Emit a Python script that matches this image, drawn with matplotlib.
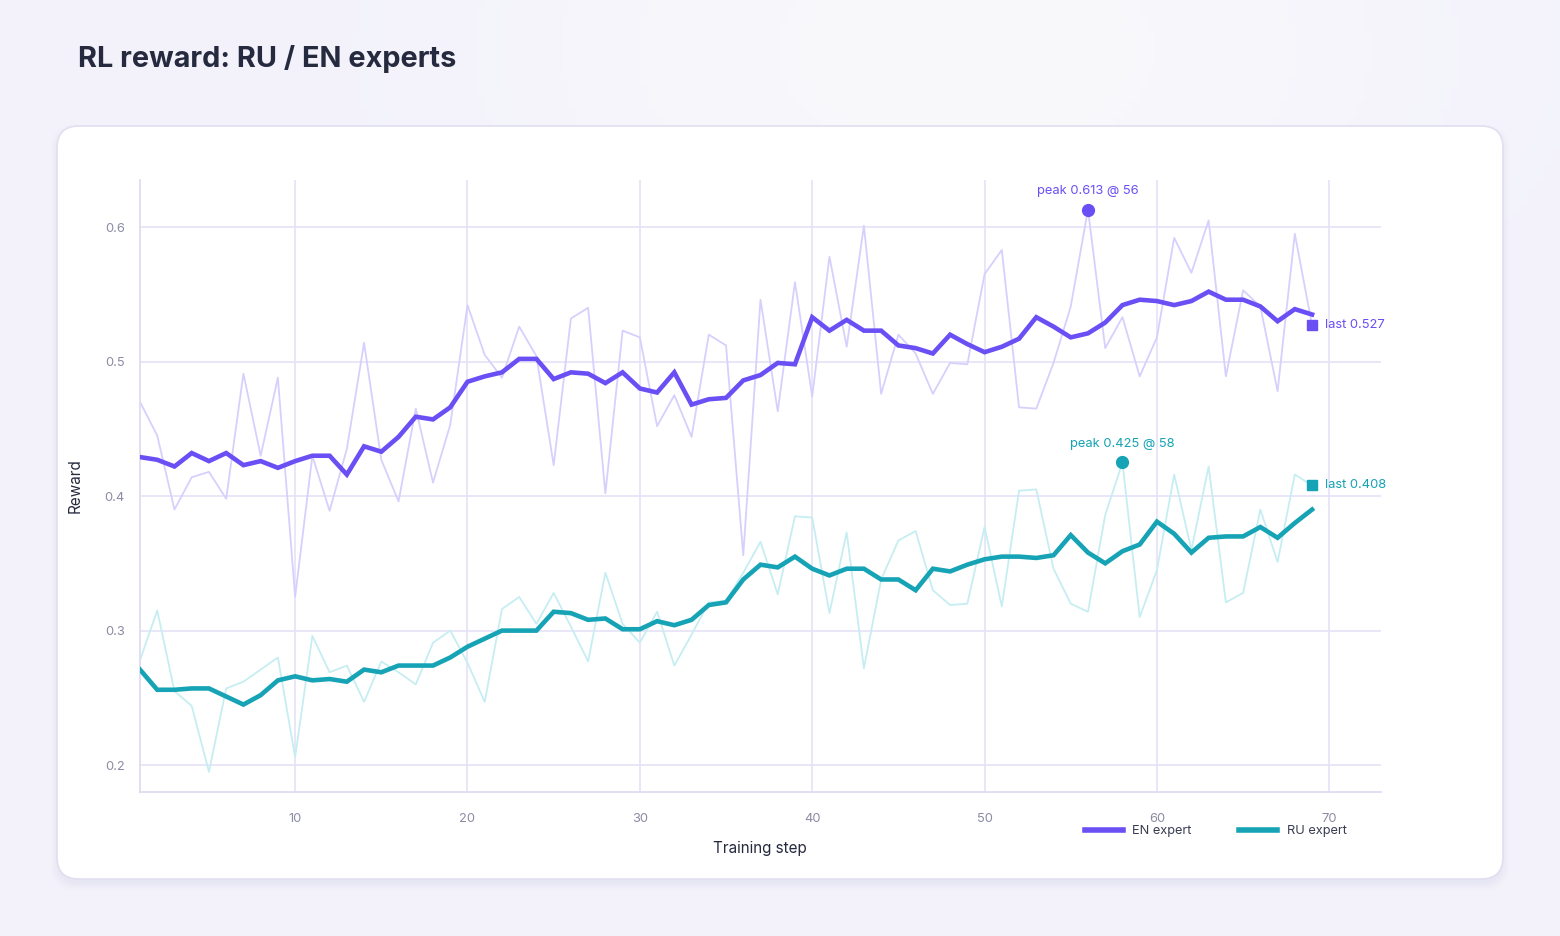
import numpy as np
import matplotlib
matplotlib.use("Agg")
import matplotlib.pyplot as plt
from matplotlib.patches import FancyBboxPatch
from matplotlib.lines import Line2D

plt.rcParams["font.family"] = ["Inter", "DejaVu Sans"]

# ---- data ----
steps = list(range(1, 70))

en_raw = [0.470, 0.445, 0.390, 0.414, 0.418, 0.398, 0.491, 0.430, 0.488, 0.325,
          0.430, 0.389, 0.435, 0.514, 0.427, 0.396, 0.465, 0.410, 0.453, 0.542,
          0.505, 0.488, 0.526, 0.504, 0.423, 0.532, 0.540, 0.402, 0.523, 0.518,
          0.452, 0.475, 0.444, 0.520, 0.512, 0.356, 0.546, 0.463, 0.559, 0.474,
          0.578, 0.511, 0.601, 0.476, 0.520, 0.506, 0.476, 0.499, 0.498, 0.565,
          0.583, 0.466, 0.465, 0.499, 0.541, 0.613, 0.510, 0.533, 0.489, 0.518,
          0.592, 0.566, 0.605, 0.489, 0.553, 0.541, 0.478, 0.595, 0.527]
en_smooth = [0.429, 0.427, 0.422, 0.432, 0.426, 0.432, 0.423, 0.426, 0.421, 0.426,
             0.430, 0.430, 0.416, 0.437, 0.433, 0.444, 0.459, 0.457, 0.466, 0.485,
             0.489, 0.492, 0.502, 0.502, 0.487, 0.492, 0.491, 0.484, 0.492, 0.480,
             0.477, 0.492, 0.468, 0.472, 0.473, 0.486, 0.490, 0.499, 0.498, 0.533,
             0.523, 0.531, 0.523, 0.523, 0.512, 0.510, 0.506, 0.520, 0.513, 0.507,
             0.511, 0.517, 0.533, 0.526, 0.518, 0.521, 0.529, 0.542, 0.546, 0.545,
             0.542, 0.545, 0.552, 0.546, 0.546, 0.541, 0.530, 0.539, 0.535]

ru_raw = [0.278, 0.315, 0.255, 0.244, 0.195, 0.257, 0.262, 0.271, 0.280, 0.206,
          0.296, 0.269, 0.274, 0.247, 0.277, 0.269, 0.260, 0.291, 0.300, 0.276,
          0.247, 0.316, 0.325, 0.305, 0.328, 0.303, 0.277, 0.343, 0.305, 0.291,
          0.314, 0.274, 0.297, 0.321, 0.322, 0.343, 0.366, 0.327, 0.385, 0.384,
          0.313, 0.373, 0.272, 0.338, 0.367, 0.374, 0.330, 0.319, 0.320, 0.377,
          0.318, 0.404, 0.405, 0.346, 0.320, 0.314, 0.386, 0.425, 0.310, 0.345,
          0.416, 0.360, 0.422, 0.321, 0.328, 0.390, 0.351, 0.416, 0.408]
ru_smooth = [0.271, 0.256, 0.256, 0.257, 0.257, 0.251, 0.245, 0.252, 0.263, 0.266,
             0.263, 0.264, 0.262, 0.271, 0.269, 0.274, 0.274, 0.274, 0.280, 0.288,
             0.294, 0.300, 0.300, 0.300, 0.314, 0.313, 0.308, 0.309, 0.301, 0.301,
             0.307, 0.304, 0.308, 0.319, 0.321, 0.338, 0.349, 0.347, 0.355, 0.346,
             0.341, 0.346, 0.346, 0.338, 0.338, 0.330, 0.346, 0.344, 0.349, 0.353,
             0.355, 0.355, 0.354, 0.356, 0.371, 0.358, 0.350, 0.359, 0.364, 0.381,
             0.372, 0.358, 0.369, 0.370, 0.370, 0.377, 0.369, 0.380, 0.390]

x_ticks = [10, 20, 30, 40, 50, 60, 70]
y_ticks = [0.2, 0.3, 0.4, 0.5, 0.6]

EN = "#6a4ff5"
RU = "#16a3b5"
EN_LIGHT = "#d6d0fd"
RU_LIGHT = "#c6eef2"
GRID = "#e5e3f6"
INK = "#262a3f"
MUTED = "#8b8ca3"

W, H = 1560, 936
fig = plt.figure(figsize=(W / 100, H / 100), dpi=100)

# background + card, drawn in pixel units
bg = fig.add_axes([0, 0, 1, 1])
bg.set_xlim(0, W)
bg.set_ylim(H, 0)
bg.axis("off")
gx = np.linspace(0, 1, 200)
gy = np.linspace(0, 1, 120)
GX, GY = np.meshgrid(gx, gy)
glow = np.exp(-((GX - 0.62) ** 2 / 0.08 + (GY - 0.05) ** 2 / 0.08))
base = np.array([243, 242, 251]) / 255
top = np.array([249, 249, 252]) / 255
img = base[None, None, :] * (1 - glow[..., None]) + top[None, None, :] * glow[..., None]
bg.imshow(img, extent=[0, W, H, 0], aspect="auto", zorder=0)
for i, a in enumerate([0.025, 0.02, 0.015, 0.01]):
    bg.add_patch(FancyBboxPatch((57 - i * 2, 128 - i * 2 + 3), 1446 + i * 4, 753 + i * 4,
                                boxstyle="round,pad=0,rounding_size=24",
                                fc="#5a55a0", ec="none", alpha=a, zorder=1))
bg.add_patch(FancyBboxPatch((57, 126), 1446, 753, boxstyle="round,pad=0,rounding_size=22",
                            fc="white", ec="#e1dff0", lw=1.2, zorder=2))
bg.text(78, 59, "RL reward: RU / EN experts", fontsize=20.8, fontweight="bold",
        color=INK, va="center", ha="left", zorder=3)

# main chart
ax = fig.add_axes([140 / W, 1 - 792 / H, (1381 - 140) / W, (792 - 180) / H])
ax.set_facecolor("none")
ax.set_xlim(1, 73)
ax.set_ylim(0.18, 0.635)
ax.set_xticks(x_ticks)
ax.set_yticks(y_ticks)
ax.set_yticklabels([f"{v:.1f}" for v in y_ticks])
ax.grid(True, color=GRID, lw=1.2)
ax.set_axisbelow(True)
for s in ["top", "right"]:
    ax.spines[s].set_visible(False)
for s in ["left", "bottom"]:
    ax.spines[s].set_color("#dcdaf0")
    ax.spines[s].set_linewidth(1.2)
ax.tick_params(length=0, colors=MUTED, labelsize=9.3)
ax.tick_params(axis="y", pad=11)
ax.tick_params(axis="x", pad=15)

ax.plot(steps, en_raw, color=EN_LIGHT, lw=1.3, zorder=2)
ax.plot(steps, ru_raw, color=RU_LIGHT, lw=1.3, zorder=2)
ax.plot(steps, en_smooth, color=EN, lw=3.3, zorder=3, solid_joinstyle="miter")
ax.plot(steps, ru_smooth, color=RU, lw=3.3, zorder=3, solid_joinstyle="miter")

for raw, col in [(en_raw, EN), (ru_raw, RU)]:
    i = int(np.argmax(raw))
    ax.plot(steps[i], raw[i], "o", color=col, ms=8.5, zorder=4)
    ax.annotate(f"peak {raw[i]:.3f} @ {steps[i]}", (steps[i], raw[i]),
                xytext=(0, 9), textcoords="offset points", ha="center",
                va="bottom", fontsize=9.3, color=col)
    ax.plot(steps[-1], raw[-1], "s", color=col, ms=7, zorder=4)
    ax.annotate(f"last {raw[-1]:.3f}", (steps[-1], raw[-1]), xytext=(9, 0),
                textcoords="offset points", ha="left", va="center",
                fontsize=9.3, color=col)

fig.text(760 / W, 1 - 848 / H, "Training step", ha="center", va="center",
         fontsize=11, color=INK)
fig.text(75 / W, 1 - 486 / H, "Reward", ha="center", va="center",
         fontsize=11, color=INK, rotation=90)

handles = [Line2D([], [], color=EN, lw=4), Line2D([], [], color=RU, lw=4)]
fig.legend(handles, ["EN expert", "RU expert"], loc="center left",
           bbox_to_anchor=(1073 / W, 1 - 831 / H), ncol=2, frameon=False,
           fontsize=9.2, handlelength=3.0, handletextpad=0.75,
           columnspacing=3.7, labelcolor="#3a3c52")

fig.savefig("out.png", dpi=100)
